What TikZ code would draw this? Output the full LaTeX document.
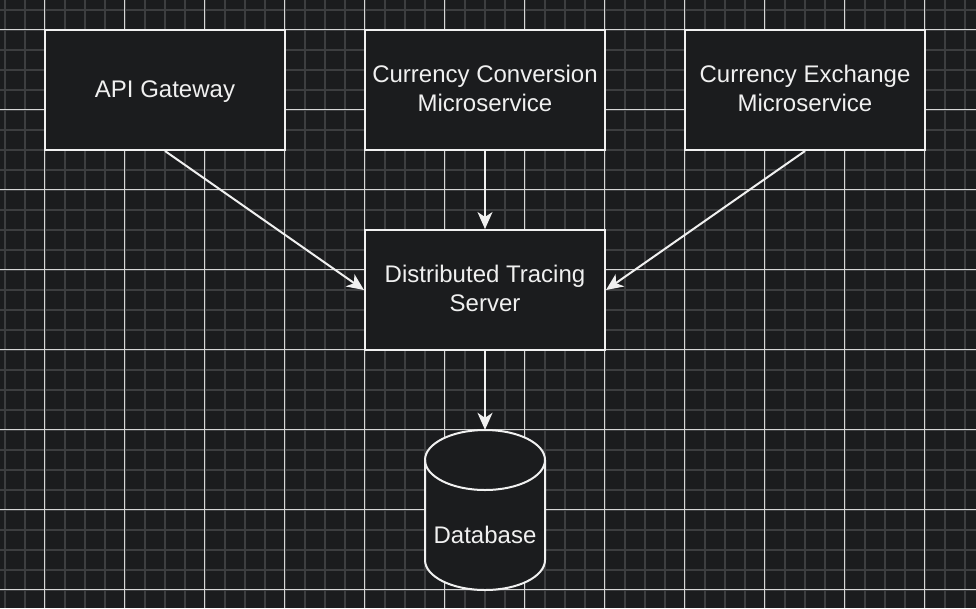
\documentclass[tikz,border=0pt]{standalone}
\usepackage{fontspec}
\setmainfont{Liberation Sans}
\usetikzlibrary{arrows.meta}
\definecolor{bgc}{HTML}{1B1C1E}
\definecolor{minorc}{HTML}{3D3E40}
\definecolor{majorc}{HTML}{D6D6D6}
\definecolor{fgc}{HTML}{F0F0F0}
\newcommand\mydpstrut{\rule[-3pt]{0pt}{0pt}}
\begin{document}
\begin{tikzpicture}[x=1pt,y=-1pt,
  minorline/.style={draw=minorc, line width=2pt},
  majorline/.style={draw=majorc, line width=1pt},
  box/.style={draw=fgc, line width=2pt, fill=bgc, minimum width=240pt, minimum height=120pt,
    inner sep=0pt, text=fgc, align=center, font=\fontsize{24}{28.8}\selectfont},
  lbl/.style={text=fgc, inner sep=0pt, font=\fontsize{24}{28.8}\selectfont},
  conn/.style={draw=fgc, line width=2pt, -{Stealth[length=17pt,width=15pt,inset=5pt]}}]
\useasboundingbox (0,0) rectangle (976,608);
\fill[bgc] (0,0) rectangle (976,608);
% grid
\foreach \i in {0,...,48} \draw[minorline] ({4.5+20*\i},0) -- ({4.5+20*\i},608);
\foreach \j in {0,...,30} \draw[minorline] (0,{9.5+20*\j}) -- (976,{9.5+20*\j});
\foreach \i in {0,...,11} \draw[majorline] ({44.5+80*\i},0) -- ({44.5+80*\i},608);
\foreach \j in {0,...,7} \draw[majorline] (0,{29.5+80*\j}) -- (976,{29.5+80*\j});
% boxes
\node[box, text height=17pt, text depth=2.2pt] (api) at (165,90) {API Gateway};
\node[box] (conv) at (485,90) {Currency Conversion\\Microservice\mydpstrut};
\node[box] (exch) at (805,90) {Currency Exchange\\Microservice\mydpstrut};
\node[box] (trace) at (485,290) {Distributed Tracing\\Server\mydpstrut};
% database cylinder
\node[minimum width=120pt, minimum height=160pt, inner sep=0pt] (db) at (485,510) {};
\draw[draw=fgc, line width=2pt, fill=bgc]
  (425,460) arc[start angle=180, end angle=0, x radius=60pt, y radius=30pt]
  -- (545,560) arc[start angle=0, end angle=-180, x radius=60pt, y radius=30pt] -- cycle;
\draw[draw=fgc, line width=2pt]
  (425,460) arc[start angle=180, end angle=360, x radius=60pt, y radius=30pt];
\node[lbl] (dblabel) at (485,535) {Database};
% connectors
\draw[conn] (api.south) -- (trace.west);
\draw[conn] (conv.south) -- (trace.north);
\draw[conn] (exch.south) -- (trace.east);
\draw[conn] (trace.south) -- (db.north);
\end{tikzpicture}
\end{document}
